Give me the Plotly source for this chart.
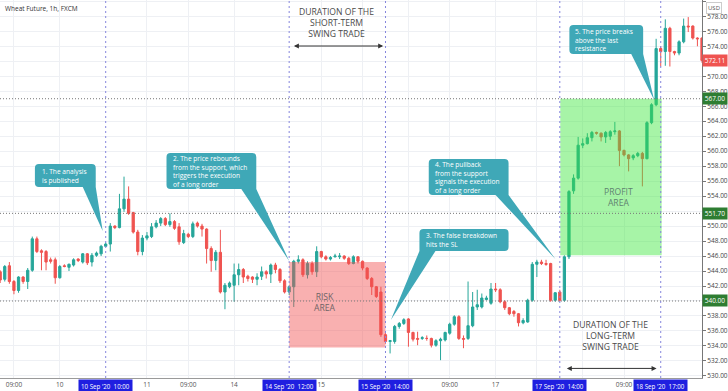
import plotly.graph_objects as go

FONT = "Open Sans"

# ---------------- data (hourly bars, index = bar number from 9 Sep 00:00) ----------------
first_bar = 6
opens = [543.9, 542.9, 544.7, 542.6, 541.4, 543.2, 542.6, 544.1, 548.3, 546.7,
         546.6, 545.5, 545.5, 543.1, 544.7, 544.5, 544.8, 545.6, 545.2, 546.3,
         545.2, 546.1, 546.3, 547.3, 547.6, 550.0, 549.8, 552.3, 553.6, 551.8,
         549.2, 546.6, 548.4, 548.6, 549.9, 550.4, 551.0, 550.2, 550.6, 549.9,
         547.8, 548.9, 548.6, 550.4, 550.0, 549.6, 547.0, 545.4, 546.5, 541.2,
         541.9, 542.1, 543.5, 544.2, 543.3, 543.2, 542.9, 543.3, 543.9, 543.6,
         544.8, 544.2, 542.7, 541.2, 541.9, 545.3, 545.5, 543.5, 545.0, 543.9,
         546.6, 545.9, 545.6, 545.9, 545.9, 546.0, 545.7, 545.0, 545.9, 545.3,
         544.4, 543.0, 541.9, 541.2, 535.5, 534.6, 534.6, 536.6, 537.0, 537.6,
         535.8, 535.0, 535.0, 535.0, 535.0, 534.1, 534.7, 534.8, 535.7, 536.9,
         537.9, 535.0, 535.0, 536.7, 539.2, 539.2, 540.2, 539.7, 541.6, 541.5,
         539.9, 539.1, 538.6, 538.3, 537.1, 537.2, 540.1, 544.9, 545.2, 545.0,
         545.0, 540.1, 541.2, 540.1, 545.9, 554.7, 556.4, 560.8, 561.0, 561.8,
         562.5, 562.4, 561.9, 562.0, 562.6, 562.7, 560.1, 559.5, 559.1, 559.4,
         559.7, 559.0, 563.8, 566.2, 573.7, 573.3, 576.4, 573.3, 573.1, 574.6,
         576.7, 576.7, 575.1, 575.1]
highs = [544.1, 544.8, 545.2, 542.8, 543.3, 543.3, 544.4, 548.6, 548.6, 546.9,
         546.8, 545.8, 545.8, 544.8, 544.9, 545.0, 545.7, 545.7, 546.4, 546.4,
         546.4, 546.6, 547.5, 547.8, 550.4, 550.1, 554.3, 556.6, 555.3, 551.9,
         549.5, 548.8, 549.2, 550.4, 550.8, 551.2, 551.2, 551.7, 550.8, 550.4,
         549.5, 549.1, 550.6, 550.6, 550.3, 549.7, 547.3, 546.8, 549.5, 542.4,
         542.6, 545.0, 545.0, 544.4, 543.5, 543.3, 543.7, 544.6, 544.1, 545.0,
         545.1, 544.4, 542.9, 542.1, 545.5, 546.1, 545.7, 545.3, 545.3, 547.3,
         546.7, 546.1, 546.0, 546.3, 546.4, 546.1, 545.9, 546.1, 546.0, 545.4,
         544.5, 543.2, 542.0, 541.9, 535.7, 534.8, 536.8, 537.2, 537.7, 537.7,
         535.9, 535.9, 535.3, 535.4, 535.1, 534.9, 535.1, 535.9, 537.1, 538.1,
         538.1, 535.4, 542.6, 541.2, 541.5, 541.0, 540.7, 542.4, 542.4, 541.7,
         540.1, 539.2, 538.8, 538.4, 537.7, 540.3, 545.2, 545.5, 545.5, 545.5,
         545.1, 541.2, 541.5, 546.1, 554.8, 556.9, 561.9, 561.7, 562.4, 562.7,
         562.6, 562.5, 562.7, 562.8, 563.9, 562.8, 560.2, 559.6, 559.6, 559.9,
         559.9, 564.0, 566.4, 575.0, 574.0, 577.6, 576.6, 573.4, 574.8, 577.7,
         577.9, 576.8, 575.2, 575.2]
lows = [542.4, 542.6, 542.3, 540.9, 541.1, 542.3, 541.6, 543.9, 546.4, 544.1,
        544.1, 545.0, 542.3, 543.0, 544.5, 544.0, 544.6, 545.2, 545.0, 544.8,
        544.6, 545.9, 546.0, 547.2, 546.6, 549.6, 549.7, 551.9, 551.5, 549.0,
        546.1, 546.1, 548.1, 548.4, 549.7, 550.0, 550.0, 549.9, 549.5, 547.5,
        547.6, 548.4, 548.4, 549.8, 548.6, 545.0, 543.9, 544.1, 541.0, 538.9,
        541.7, 539.9, 542.1, 542.4, 542.6, 542.4, 542.1, 542.8, 543.0, 542.4,
        543.7, 542.4, 541.0, 540.8, 539.2, 545.0, 543.2, 543.0, 543.5, 543.2,
        545.7, 545.4, 545.4, 545.8, 545.6, 545.5, 544.8, 544.9, 545.0, 544.1,
        542.8, 540.8, 540.4, 535.2, 534.3, 533.0, 534.3, 536.3, 536.8, 533.9,
        534.6, 534.1, 534.8, 534.7, 533.8, 533.9, 532.1, 534.6, 535.5, 536.7,
        534.8, 533.7, 534.8, 536.5, 538.8, 539.0, 540.1, 539.5, 541.2, 539.7,
        538.8, 538.1, 537.9, 536.6, 536.9, 537.1, 539.9, 543.2, 544.8, 544.7,
        539.9, 539.9, 539.9, 539.9, 545.6, 554.3, 556.2, 560.4, 560.9, 561.3,
        562.2, 561.3, 561.1, 561.5, 562.2, 558.0, 559.3, 557.3, 558.8, 559.2,
        555.3, 558.9, 563.6, 566.0, 571.3, 571.4, 571.3, 572.8, 572.8, 574.4,
        575.9, 574.9, 574.0, 571.8]
closes = [542.8, 544.6, 542.6, 541.4, 543.2, 542.6, 544.1, 548.3, 546.6, 546.5,
          545.2, 545.3, 543.1, 544.6, 544.6, 544.9, 545.5, 545.4, 546.3, 545.1,
          546.1, 546.4, 547.3, 547.6, 550.0, 549.8, 552.3, 553.6, 551.7, 549.2,
          546.6, 548.4, 548.7, 549.9, 550.4, 551.0, 550.2, 550.6, 549.7, 547.9,
          549.0, 548.6, 550.3, 550.0, 549.6, 547.0, 545.4, 546.5, 541.2, 542.1,
          542.4, 543.5, 544.2, 543.2, 543.0, 542.9, 543.2, 543.9, 543.6, 544.8,
          544.2, 542.7, 541.2, 541.9, 545.3, 545.5, 543.5, 545.0, 543.9, 546.6,
          545.9, 545.6, 545.8, 546.0, 546.0, 545.7, 545.0, 545.9, 545.3, 544.4,
          543.0, 541.9, 540.6, 535.5, 534.6, 534.7, 536.6, 537.0, 537.5, 535.8,
          534.9, 534.9, 535.1, 535.0, 534.1, 534.7, 534.9, 535.8, 536.9, 537.9,
          535.0, 534.9, 536.7, 539.2, 539.5, 540.4, 540.4, 541.6, 541.5, 539.9,
          539.1, 538.3, 538.3, 537.1, 537.4, 540.1, 544.9, 545.2, 545.0, 544.9,
          540.1, 541.1, 540.1, 545.9, 554.6, 556.4, 560.8, 561.0, 561.8, 562.5,
          562.4, 561.9, 562.5, 562.6, 562.7, 560.1, 559.5, 559.0, 559.4, 559.7,
          559.0, 563.8, 566.2, 573.7, 573.3, 576.4, 573.3, 573.1, 574.6, 576.7,
          576.6, 575.1, 575.0, 572.11]
bars = list(range(first_bar, first_bar + len(opens)))

# x-axis labels (bar index -> label); labels hidden under the date tags are left blank
tick_bars = [9, 19, 38, 47, 57, 76, 85, 95, 104, 114, 123, 133, 142]
tick_text = ["09:00", "10", "11", "09:00", "14", "15", "", "", "09:00", "17", "", "", "09:00"]

# price-axis ticks (those under the price tags are left blank)
price_ticks = [530, 532, 534, 536, 538, 540, 542, 544, 546, 548, 550, 552, 554, 556, 558,
               560, 562, 564, 566, 568, 570, 572, 574, 576, 578, 580]
hidden_price_ticks = [540, 552, 572, 580]

# marked moments (bar index) and their labels
event_bars = [29, 69, 90, 128, 150]
event_text = ["10 Sep '20  10:00", "14 Sep '20  12:00", "15 Sep '20  14:00",
              "17 Sep '20  14:00", "18 Sep '20  17:00"]

# horizontal price levels
level_prices = [567.0, 551.7, 540.0]
last_price = 572.11

# zones: [x0, x1, bottom, top]
risk_zone = [69.0, 90.0, 533.8, 545.2]
profit_zone = [128.1, 150.2, 546.1, 567.0]

# callouts: box x0, x1, y_bottom, y_top, pointer base x0, x1, tip x, tip y, text x, lines
callouts = [
    (13.57, 26.83, 555.21, 558.28, 24.0, 26.4, 28.35, 549.34, 14.9,
     ["1. The analysis", "is published"]),
    (42.26, 61.83, 554.95, 559.75, 58.57, 61.6, 69.0, 545.33, 43.35,
     ["2. The price rebounds", "from the support, which", "triggers the execution", "of a long order"]),
    (97.4, 116.83, 546.67, 549.61, 97.6, 100.9, 91.17, 537.46, 98.6,
     ["3. The false breakdown", "hits the SL"]),
    (99.43, 116.83, 554.15, 558.95, 114.0, 116.8, 127.04, 545.6, 100.5,
     ["4. The pullback", "from the support", "signals the execution", "of a long order"]),
    (130.09, 146.17, 572.97, 576.84, 143.57, 146.1, 148.57, 566.83, 131.17,
     ["5. The price breaks", "above the last", "resistance"]),
]

X_RANGE = [5.96, 159.0]
Y_RANGE = [529.72, 580.18]

UP = "#26a69a"
DOWN = "#ef5350"

fig = go.Figure()
fig.add_trace(go.Candlestick(
    x=bars, open=opens, high=highs, low=lows, close=closes,
    increasing=dict(line=dict(color=UP, width=1), fillcolor=UP),
    decreasing=dict(line=dict(color=DOWN, width=1), fillcolor=DOWN),
    whiskerwidth=0, showlegend=False, hoverinfo="skip",
))

shapes = []
# zones (drawn above candles, semi-transparent)
shapes.append(dict(type="rect", xref="x", yref="y", x0=risk_zone[0], x1=risk_zone[1],
                   y0=risk_zone[2], y1=risk_zone[3], fillcolor="rgb(242,80,80)",
                   opacity=0.45, line=dict(width=0), layer="above"))
shapes.append(dict(type="rect", xref="x", yref="y", x0=profit_zone[0], x1=profit_zone[1],
                   y0=profit_zone[2], y1=profit_zone[3], fillcolor="rgb(60,230,60)",
                   opacity=0.45, line=dict(width=0), layer="above"))
# horizontal levels
for p in level_prices:
    shapes.append(dict(type="line", xref="paper", yref="y", x0=0, x1=1, y0=p, y1=p,
                       line=dict(color="#777777", width=1, dash="1px,2px"), layer="above"))
# vertical event lines
for b in event_bars:
    shapes.append(dict(type="line", xref="x", yref="paper", x0=b, x1=b, y0=0, y1=1,
                       line=dict(color="#8585dd", width=1, dash="2px,3px"), layer="above"))


def bubble(x0, x1, yb, yt, bx0, bx1, tx, ty):
    rx, ry = 0.87, 0.53
    p = [f"M{x0+rx},{yt}", f"L{x1-rx},{yt}", f"Q{x1},{yt} {x1},{yt-ry}"]
    if bx1 >= x1 - rx:
        p.append(f"L{x1},{yb}")
    else:
        p += [f"L{x1},{yb+ry}", f"Q{x1},{yb} {x1-rx},{yb}", f"L{bx1},{yb}"]
    p.append(f"L{tx},{ty}")
    if bx0 <= x0 + rx:
        p.append(f"L{x0},{yb}")
    else:
        p += [f"L{bx0},{yb}", f"L{x0+rx},{yb}", f"Q{x0},{yb} {x0},{yb+ry}"]
    p += [f"L{x0},{yt-ry}", f"Q{x0},{yt} {x0+rx},{yt}", "Z"]
    return " ".join(p)


CALLOUT = "#3fa8b7"
annotations = []
for (x0, x1, yb, yt, bx0, bx1, tx, ty, txt_x, lines) in callouts:
    shapes.append(dict(type="path", xref="x", yref="y", path=bubble(x0, x1, yb, yt, bx0, bx1, tx, ty),
                       fillcolor=CALLOUT, line=dict(width=0), layer="above"))
    annotations.append(dict(x=txt_x, y=(yb + yt) / 2, xref="x", yref="y", xanchor="left",
                            yanchor="middle", align="left", text="<br>".join(lines),
                            showarrow=False, borderpad=0,
                            font=dict(family=FONT, size=6.6, color="white")))

# zone captions
for txt, xx, yy, col in [("RISK<br>AREA", 76.8, 539.86, "#6f6466"),
                         ("PROFIT<br>AREA", 140.7, 553.88, "#5f8270")]:
    annotations.append(dict(x=xx, y=yy, xref="x", yref="y", text=txt, showarrow=False,
                            borderpad=0, font=dict(family=FONT, size=8.6, color=col)))

# duration captions + double arrows
for txt, xx, yy in [("DURATION OF THE<br>SHORT-TERM<br>SWING TRADE", 79.4, 577.11),
                    ("DURATION OF THE<br>LONG-TERM<br>SWING TRADE", 139.0, 535.32)]:
    annotations.append(dict(x=xx, y=yy, xref="x", yref="y", text=txt, showarrow=False,
                            borderpad=0, font=dict(family=FONT, size=8.6, color="#4a4a4a")))
for xa, xb, yy in [(69.7, 89.5, 574.04), (129.2, 149.1, 531.0)]:
    annotations.append(dict(x=xb, y=yy, ax=xa, ay=yy, xref="x", yref="y", axref="x", ayref="y",
                            text="", showarrow=True, arrowside="end+start", arrowhead=2,
                            arrowsize=1, arrowwidth=1, arrowcolor="#333333",
                            standoff=0, startstandoff=0))

# event date labels on the time axis
for b, t in zip(event_bars, event_text):
    annotations.append(dict(x=b, y=0, xref="x", yref="paper", yanchor="top", yshift=-1,
                            text=t.replace(" ", "\u00a0"), showarrow=False, bgcolor="#1f1fe0",
                            borderpad=2, font=dict(family=FONT, size=6.2, color="white")))

# price labels on the price axis
for p, col in [(last_price, "#ef5350")] + [(p, "#2e7d32") for p in level_prices]:
    annotations.append(dict(x=1, y=p, xref="paper", yref="y", xanchor="left", yanchor="middle",
                            text=f"{p:.2f}", showarrow=False, bgcolor=col, width=22, borderpad=1,
                            font=dict(family=FONT, size=6.5, color="white")))

annotations.append(dict(x=1, y=1, xref="paper", yref="paper", xanchor="left", yanchor="top",
                        xshift=4, yshift=-2, text="USD", showarrow=False, bordercolor="#cccccc",
                        borderwidth=1, borderpad=1, font=dict(family=FONT, size=6, color="#555")))
annotations.append(dict(x=0, y=1, xref="paper", yref="paper", xanchor="left", yanchor="top",
                        xshift=3, yshift=-2, text="Wheat Future, 1h, FXCM", showarrow=False,
                        font=dict(family=FONT, size=6.5, color="#333")))

GRID = "#eef0f4"
fig.update_layout(
    width=728, height=391,
    margin=dict(l=0, r=24, t=0, b=13),
    paper_bgcolor="white", plot_bgcolor="white",
    showlegend=False,
    shapes=shapes, annotations=annotations,
    font=dict(family=FONT),
    xaxis=dict(range=X_RANGE, tickvals=tick_bars, ticktext=tick_text, showgrid=True,
               gridcolor=GRID, showline=True, linecolor="#9a9a9a", zeroline=False,
               ticks="", tickfont=dict(family=FONT, size=6.5, color="#555"),
               rangeslider=dict(visible=False), fixedrange=True),
    yaxis=dict(range=Y_RANGE, side="right", tickvals=price_ticks,
               ticktext=["" if v in hidden_price_ticks else f"{v:.2f}" for v in price_ticks],
               showgrid=True, gridcolor=GRID, showline=True, linecolor="#777", ticks="outside",
               ticklen=3, tickcolor="#777", zeroline=False,
               tickfont=dict(family=FONT, size=6.5, color="#444"), fixedrange=True),
)

fig.write_html("out.html")
